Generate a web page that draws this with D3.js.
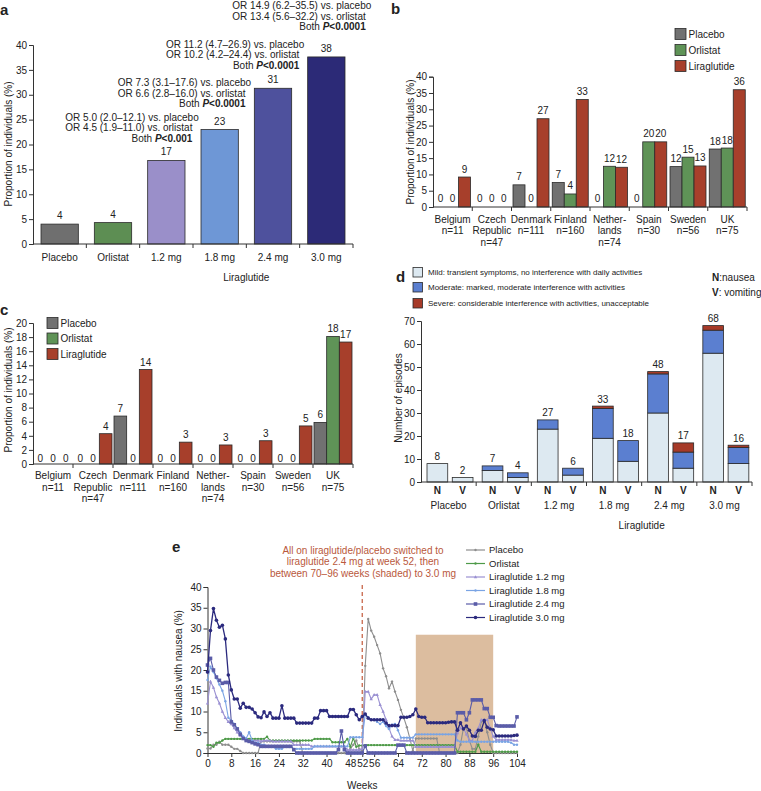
<!DOCTYPE html>
<html><head><meta charset="utf-8">
<script src="https://cdn.jsdelivr.net/npm/d3@7/dist/d3.min.js"></script>
<style>
body{margin:0;background:#fff}
svg text{font-family:"Liberation Sans",Arial,Helvetica,sans-serif;fill:#222}
</style>
</head><body>
<svg id="chart" width="761" height="791"></svg>
<script>
// ---------------- DATA ----------------
// Panel a
const catsA = ["Placebo","Orlistat","1.2 mg","1.8 mg","2.4 mg","3.0 mg"];
const valuesA = [4.0, 4.3, 16.8, 23.0, 31.3, 37.6];
const labelsA = ["4","4","17","23","31","38"];
const ticksA = [0,5,10,15,20,25,30,35,40];
const orCats = ["1.2 mg","1.8 mg","2.4 mg","3.0 mg"];
const orVsPlacebo = ["OR 5.0 (2.0–12.1) vs. placebo","OR 7.3 (3.1–17.6) vs. placebo","OR 11.2 (4.7–26.9) vs. placebo","OR 14.9 (6.2–35.5) vs. placebo"];
const orVsOrlistat = ["OR 4.5 (1.9–11.0) vs. orlistat","OR 6.6 (2.8–16.0) vs. orlistat","OR 10.2 (4.2–24.4) vs. orlistat","OR 13.4 (5.6–32.2) vs. orlistat"];
const orP = ["<0.001","<0.0001","<0.0001","<0.0001"];

// Panels b and c
const countries = ["Belgium","Czech Republic","Denmark","Finland","Netherlands","Spain","Sweden","UK"];
const countryLines = [["Belgium","n=11"],["Czech","Republic","n=47"],["Denmark","n=111"],["Finland","n=160"],["Nether-","lands","n=74"],["Spain","n=30"],["Sweden","n=56"],["UK","n=75"]];
const groupSeries = ["Placebo","Orlistat","Liraglutide"];
const placeboB = [0,0,6.8,7.5,0,0,12.4,17.8];
const orlistatB = [0,0,0,4.0,12.5,20.0,15.3,18.1];
const liraglutideB = [9.2,0,27.1,33.0,12.2,20.0,12.6,36.0];
const placeboBLabels = ["0","0","7","7","0","0","12","18"];
const orlistatBLabels = ["0","0","0","4","12","20","15","18"];
const liraglutideBLabels = ["9","0","27","33","12","20","13","36"];
const ticksB = [0,5,10,15,20,25,30,35,40];

const placeboC = [0,0,6.8,0,0,0,0,5.9];
const orlistatC = [0,0,0,0,0,0,0,18.1];
const liraglutideC = [0,4.3,13.4,3.1,2.7,3.3,5.4,17.3];
const placeboCLabels = ["0","0","7","0","0","0","0","6"];
const orlistatCLabels = ["0","0","0","0","0","0","0","18"];
const liraglutideCLabels = ["0","4","14","3","3","3","5","17"];
const ticksC = [0,2,4,6,8,10,12,14,16,18,20];

// Panel d
const groupsD = ["Placebo","Orlistat","1.2 mg","1.8 mg","2.4 mg","3.0 mg"];
const kindsD = ["N","V"];
const severities = ["Mild: transient symptoms, no interference with daily activities","Moderate: marked, moderate interference with activities","Severe: considerable interference with activities, unacceptable"];
const mildN = [8,5,23,19,30,56];
const moderateN = [0,2,4,13,17,10];
const severeN = [0,0,0,1,1,2];
const mildV = [2,2,3,9,6,8];
const moderateV = [0,2,3,9,7,7];
const severeV = [0,0,0,0,4,1];
const ticksD = [0,10,20,30,40,50,60,70];

// Panel e
const weeksE = [0,1,2,3,4,5,6,7,8,9,10,11,12,13,14,15,16,17,18,19,20,21,22,23,24,25,26,27,28,29,30,31,32,33,34,35,36,37,38,39,40,41,42,43,44,45,46,47,48,49,50,51,52,53,54,55,56,57,58,59,60,61,62,63,64,65,66,67,68,69,70,71,72,73,74,75,76,77,78,79,80,81,82,83,84,85,86,87,88,89,90,91,92,93,94,95,96,97,98,99,100,101,102,103,104];
const weekTicks = [0,8,16,24,32,40,48,52,56,64,72,80,88,96,104];
const ticksE = [0,5,10,15,20,25,30,35,40];
const seriesE = ["Placebo","Orlistat","Liraglutide 1.2 mg","Liraglutide 1.8 mg","Liraglutide 2.4 mg","Liraglutide 3.0 mg"];
const placeboE = [
1.1,1.1,2.0,2.0,2.7,2.0,2.0,2.0,1.5,1.0,
1.0,0.5,0,0,0,0,0,0,2.8,2.8,
2.8,2.8,2.8,2.8,2.8,2.8,2.8,2.8,2.8,2.8,
2.8,2.8,0,0,0,0,0,0,0,0,
0,0,0,0,0,0,0,0,1.0,2.0,
3.0,1.0,0.5,21.0,32.3,29.5,28.0,26.0,24.0,20.4,
18.5,15.6,17.2,14.8,12.8,10.4,8.4,6.2,3.5,0.5,
3.5,3.5,3.5,3.5,3.5,3.5,3.5,3.5,0,0,
0,0,0,0,0,2.0,6.0,6.0,3.0,1.0,
1.0,4.0,7.5,8.0,5.0,2.0,0,0,0,0,
0,0,0,0,0];
const orlistatE = [
1.9,1.9,1.5,2.5,2.5,3.0,3.4,3.4,3.4,3.4,
3.4,3.4,3.4,3.4,3.4,3.4,3.4,3.4,3.4,3.4,
3.9,3.0,3.0,3.0,3.0,3.0,3.0,3.0,3.0,3.0,
3.0,3.0,3.0,3.0,3.0,3.0,3.4,3.4,3.4,3.4,
3.4,3.4,2.6,2.6,2.6,2.6,2.6,3.4,1.5,3.6,
1.5,1.8,1.8,1.9,1.9,1.9,1.9,1.9,1.9,1.9,
1.9,1.9,1.9,1.9,1.9,1.9,1.9,1.9,1.9,1.9,
1.9,1.9,1.9,1.9,1.9,1.9,1.9,1.9,1.9,1.9,
1.9,1.9,1.9,1.9,0.3,0.3,0.3,0.3,0.3,0.3,
0.3,2.0,0.3,0.3,0.3,0.3,0.3,0.3,0.3,0.3,
0.3,0.3,0.3,0.3,0.3];
const lira12E = [
12.0,17.2,15.8,13.5,12.0,10.0,8.5,7.5,7.0,6.0,
5.0,4.2,3.8,3.3,3.0,3.0,3.0,3.0,2.8,3.0,
3.0,3.0,2.8,2.8,2.8,2.8,2.8,2.8,2.8,2.0,
2.0,2.0,2.0,2.0,2.0,1.6,1.6,1.6,1.6,1.6,
1.6,1.6,1.6,1.6,1.6,1.6,1.6,0.8,0.8,0.8,
0.8,0.8,1.0,14.8,14.8,13.0,14.0,14.0,11.6,10.0,
8.0,6.0,4.0,3.2,3.2,3.0,3.0,3.0,3.0,3.0,
1.5,1.5,1.5,1.5,1.5,1.5,1.5,1.5,1.5,1.5,
1.5,1.5,1.5,1.5,4.8,6.0,6.0,4.5,3.0,3.0,
5.0,6.0,8.0,8.0,8.0,6.0,4.0,3.2,3.2,3.2,
3.2,3.2,3.2,3.0,3.0];
const lira18E = [
17.6,20.8,19.5,18.0,16.5,15.0,12.5,8.5,7.8,7.0,
6.0,5.0,4.0,3.5,5.0,3.0,2.5,2.5,2.0,2.0,
1.5,1.5,1.6,1.0,1.0,1.0,1.6,1.6,1.6,1.0,
1.0,1.0,1.0,1.0,1.0,1.0,1.6,1.6,1.6,1.6,
1.6,1.6,1.6,1.6,1.6,1.6,1.6,1.6,3.8,3.8,
3.8,3.8,3.8,9.2,8.6,8.0,8.0,7.5,7.0,7.5,
6.5,5.8,6.8,7.0,5.5,3.7,3.7,3.7,3.7,3.7,
4.5,4.5,4.5,4.5,4.5,4.5,4.5,4.5,4.5,4.5,
4.5,4.5,4.5,4.5,3.0,2.7,2.7,2.7,2.7,2.7,
2.7,2.7,2.7,2.7,2.7,2.7,2.7,2.7,2.7,2.7,
2.7,2.7,2.5,2.0,2.0];
const lira24E = [
21.2,22.8,20.0,18.3,17.5,16.8,17.0,17.0,7.5,6.8,
5.8,4.5,3.5,3.0,2.8,2.5,2.2,2.0,1.6,1.6,
1.6,1.6,1.6,1.6,1.6,1.6,1.6,1.6,1.6,0.8,
0,0,0,0,0,0,0,0,0,0,
0,0,0,0,0.8,5.3,0.8,0,0,0,
0,0,0,1.7,0,0,0,0,0,0,
0,0,0,0,1.9,1.9,1.9,0,0,0,
0,0,0,0,0,0,0,0,0,0,
0,0,0,0,9.7,9.7,9.7,8.0,9.7,12.8,
12.8,12.8,12.8,10.7,10.7,8.6,8.6,6.6,6.5,6.5,
6.5,6.5,6.5,6.5,8.7];
const lira30E = [
19.5,29.5,34.8,32.0,30.3,30.8,27.5,18.8,15.2,13.0,
13.0,10.8,12.0,11.0,11.0,10.6,9.7,8.7,8.5,9.9,
8.8,9.7,8.4,8.4,8.4,11.4,8.4,8.4,8.4,8.4,
7.2,7.2,7.2,7.2,7.2,7.2,8.4,8.4,10.2,10.2,
10.2,8.8,8.8,8.8,8.8,8.8,8.8,8.8,10.5,10.5,
9.2,8.0,8.8,9.4,8.4,8.0,8.0,8.0,8.0,8.0,
7.2,6.6,6.6,6.6,6.6,8.6,8.6,8.6,8.8,9.2,
10.6,8.8,8.6,8.6,7.3,7.3,7.3,7.3,7.3,7.3,
7.3,7.4,7.5,7.5,5.5,7.3,5.8,6.5,5.5,4.1,
4.0,5.5,5.5,7.8,6.2,5.8,5.6,4.1,4.1,4.1,
4.1,4.1,4.1,4.2,4.3];
const shadeWeeks = [70,96];
const shadeTop = 28.5;
const switchWeek = 52;
const noteLines = ["All on liraglutide/placebo switched to","liraglutide 2.4 mg at week 52, then","between 70–96 weeks (shaded) to 3.0 mg"];

// ---------------- STYLE ----------------
const colorsA = ["#6f6f6f","#5d8e53","#9a8fc9","#6e97d6","#4e519d","#2c2a77"];
const groupColors = ["#717171","#5f9357","#a73f2b"];
const sevColors = ["#dde9f1","#5b7fd0","#a63a28"];
const lineColorsE = ["#8e8e8e","#4e9a48","#9a90d2","#7aa4e4","#5a5ca8","#2b2a7e"];
const AX = "#333";

const svg = d3.select("#chart");
svg.append("rect").attr("width",761).attr("height",791).attr("fill","#fff");

function styleAxis(g){
  g.selectAll("path").attr("stroke",AX);
  g.selectAll("line").attr("stroke",AX);
  g.selectAll("text").attr("font-size",10).attr("fill","#222");
}
function panelLabel(t,x,y){
  svg.append("text").attr("x",x).attr("y",y).attr("font-size",15).attr("font-weight","bold").text(t);
}
function yLabel(t,x,y){
  svg.append("text").attr("transform",`translate(${x},${y}) rotate(-90)`).attr("text-anchor","middle").attr("font-size",10).text(t);
}
function bandTicks(scaleRange, n, y){
  const [a,b] = scaleRange; const step=(b-a)/n;
  for(let k=1;k<=n;k++){
    svg.append("line").attr("x1",a+k*step).attr("x2",a+k*step).attr("y1",y).attr("y2",y+4).attr("stroke",AX);
  }
  svg.append("line").attr("x1",a).attr("x2",b).attr("y1",y).attr("y2",y).attr("stroke",AX);
}

// ---------------- PANEL A ----------------
panelLabel("a",0,15);
const xA = d3.scaleBand().domain(catsA).range([33,353]).paddingInner(0.3).paddingOuter(0.15);
const yA = d3.scaleLinear().domain([0,40]).range([244,45]);
styleAxis(svg.append("g").attr("transform","translate(33,0)").call(d3.axisLeft(yA).tickValues(ticksA).tickSize(4).tickPadding(2)));
svg.selectAll(".barA").data(catsA).enter().append("rect")
  .attr("x",d=>xA(d)).attr("width",xA.bandwidth())
  .attr("y",(d,i)=>yA(valuesA[i])).attr("height",(d,i)=>yA(0)-yA(valuesA[i]))
  .attr("fill",(d,i)=>colorsA[i]).attr("stroke","#2a2a2a").attr("stroke-width",0.8);
bandTicks([33,353],6,244);
catsA.forEach((c,i)=>{
  const cx = xA(c)+xA.bandwidth()/2;
  svg.append("text").attr("x",cx).attr("y",yA(valuesA[i])-5).attr("text-anchor","middle").attr("font-size",10).text(labelsA[i]);
  svg.append("text").attr("x",cx).attr("y",261).attr("text-anchor","middle").attr("font-size",10).text(c);
});
svg.append("text").attr("x",(xA("1.2 mg")+xA("3.0 mg")+xA.bandwidth())/2).attr("y",281).attr("text-anchor","middle").attr("font-size",10).text("Liraglutide");
yLabel("Proportion of individuals (%)",11.5,144);
const orDx = [-101,-102,-107,-94];
const orDy = [-43,-47,-44,-51];
orCats.forEach((c,i)=>{
  const cx = xA(c)+xA.bandwidth()/2;
  const v = valuesA[catsA.indexOf(c)];
  const x0 = cx+orDx[i];
  const y1 = yA(v)+orDy[i]+3.5;
  svg.append("text").attr("x",x0).attr("y",y1).attr("font-size",10).text(orVsPlacebo[i]);
  const t2 = svg.append("text").attr("x",x0).attr("y",y1+10.5).attr("font-size",10).text(orVsOrlistat[i]);
  const w2 = t2.node().getComputedTextLength();
  const t3 = svg.append("text").attr("x",x0+w2).attr("y",y1+21).attr("font-size",10).attr("text-anchor","end");
  t3.append("tspan").text("Both ");
  t3.append("tspan").attr("font-weight","bold").attr("font-style","italic").text("P");
  t3.append("tspan").attr("font-weight","bold").text(orP[i]);
});

// ---------------- PANEL B / C helper ----------------
function groupedPanel(opts){
  const {x0,x1,y,inner,data,labels,ticks,zeroDy,valDy,labelY} = opts;
  const xg = d3.scaleBand().domain(countries).range([x0,x1]).padding(0);
  const xi = d3.scaleBand().domain(groupSeries).range(inner).padding(0);
  styleAxis(svg.append("g").attr("transform",`translate(${x0},0)`).call(d3.axisLeft(y).tickValues(ticks).tickSize(4).tickPadding(2)));
  countries.forEach((c,ci)=>{
    groupSeries.forEach((s,si)=>{
      const v = data[si][ci];
      const bx = xg(c)+xi(s);
      if(v>0){
        svg.append("rect").attr("x",bx).attr("width",xi.bandwidth()).attr("y",y(v)).attr("height",y(0)-y(v))
          .attr("fill",groupColors[si]).attr("stroke","#2a2a2a").attr("stroke-width",0.8);
      }
      svg.append("text").attr("x",bx+xi.bandwidth()/2).attr("y",v>0?y(v)-valDy:y(0)-zeroDy)
        .attr("text-anchor","middle").attr("font-size",10).text(labels[si][ci]);
    });
    countryLines[ci].forEach((ln,li)=>{
      svg.append("text").attr("x",xg(c)+xg.bandwidth()/2).attr("y",labelY+li*11.5).attr("text-anchor","middle").attr("font-size",10).text(ln);
    });
  });
  bandTicks([x0,x1],8,y(0));
}
function groupLegend(x,ys){
  groupSeries.forEach((s,i)=>{
    svg.append("rect").attr("x",x).attr("y",ys[i]-5.5).attr("width",11).attr("height",11).attr("fill",groupColors[i]).attr("stroke","#2a2a2a").attr("stroke-width",0.8);
    svg.append("text").attr("x",x+13.5).attr("y",ys[i]+3.8).attr("font-size",10).text(s);
  });
}

// PANEL B
panelLabel("b",391,14);
const yB = d3.scaleLinear().domain([0,40]).range([207,76.7]);
groupedPanel({x0:433,x1:747,y:yB,inner:[1.5,37.5],data:[placeboB,orlistatB,liraglutideB],
  labels:[placeboBLabels,orlistatBLabels,liraglutideBLabels],ticks:ticksB,zeroDy:5,valDy:4.5,labelY:222.5});
groupLegend(675,[34,50,66]);
yLabel("Proportion of individuals (%)",413.5,142);

// PANEL C
panelLabel("c",0,315);
const yC = d3.scaleLinear().domain([0,20]).range([464,323]);
groupedPanel({x0:33,x1:353,y:yC,inner:[1,39],data:[placeboC,orlistatC,liraglutideC],
  labels:[placeboCLabels,orlistatCLabels,liraglutideCLabels],ticks:ticksC,zeroDy:2.3,valDy:4,labelY:479});
groupLegend(47,[323,338.5,354]);
yLabel("Proportion of individuals (%)",11.5,390);

// ---------------- PANEL D ----------------
panelLabel("d",396,282);
const xD = d3.scaleBand().domain(groupsD).range([421,752]).padding(0);
const xDi = d3.scaleBand().domain(kindsD).range([6,52]).paddingInner(0.18).paddingOuter(0);
const yD = d3.scaleLinear().domain([0,70]).range([482,321]);
styleAxis(svg.append("g").attr("transform","translate(421,0)").call(d3.axisLeft(yD).tickValues(ticksD).tickSize(4).tickPadding(2)));
const stackD = {N:[mildN,moderateN,severeN], V:[mildV,moderateV,severeV]};
groupsD.forEach((g,gi)=>{
  kindsD.forEach(k=>{
    const bx = xD(g)+xDi(k);
    let acc = 0;
    stackD[k].forEach((arr,si)=>{
      const v = arr[gi];
      if(v>0){
        svg.append("rect").attr("x",bx).attr("width",xDi.bandwidth()).attr("y",yD(acc+v)).attr("height",yD(acc)-yD(acc+v))
          .attr("fill",sevColors[si]).attr("stroke","#2a2a2a").attr("stroke-width",0.8);
      }
      acc += v;
    });
    svg.append("text").attr("x",bx+xDi.bandwidth()/2).attr("y",yD(acc)-3.5).attr("text-anchor","middle").attr("font-size",10).text(acc);
    svg.append("text").attr("x",bx+xDi.bandwidth()/2).attr("y",494).attr("text-anchor","middle").attr("font-size",10).attr("font-weight","bold").text(k);
  });
  svg.append("text").attr("x",xD(g)+xD.bandwidth()/2).attr("y",509).attr("text-anchor","middle").attr("font-size",10).text(g);
});
bandTicks([421,752],6,482);
svg.append("text").attr("x",(xD("1.2 mg")+xD("3.0 mg")+xD.bandwidth())/2).attr("y",529).attr("text-anchor","middle").attr("font-size",10).text("Liraglutide");
yLabel("Number of episodes",401.5,398);
[272,287,303].forEach((yy,i)=>{
  svg.append("rect").attr("x",413).attr("y",yy-4.5).attr("width",9.5).attr("height",9.5).attr("fill",sevColors[i]).attr("stroke","#2a2a2a").attr("stroke-width",0.8);
  svg.append("text").attr("x",428).attr("y",yy+3).attr("font-size",8).text(severities[i]);
});
const nT = svg.append("text").attr("x",712).attr("y",281).attr("font-size",10);
nT.append("tspan").attr("font-weight","bold").text("N"); nT.append("tspan").text(":nausea");
const vT = svg.append("text").attr("x",712).attr("y",296).attr("font-size",10);
vT.append("tspan").attr("font-weight","bold").text("V"); vT.append("tspan").text(": vomiting");

// ---------------- PANEL E ----------------
panelLabel("e",172,552);
const xE = d3.scaleLinear().domain([0,104]).range([207.5,517]);
const yE = d3.scaleLinear().domain([0,40]).range([753,587]);
svg.append("rect").attr("x",xE(shadeWeeks[0])).attr("width",xE(shadeWeeks[1])-xE(shadeWeeks[0]))
  .attr("y",yE(shadeTop)).attr("height",yE(0)-yE(shadeTop)).attr("fill","#dcbd9f");
svg.append("line").attr("x1",xE(switchWeek)).attr("x2",xE(switchWeek)).attr("y1",585).attr("y2",yE(0))
  .attr("stroke","#c8664a").attr("stroke-width",1.3).attr("stroke-dasharray","4,3");
noteLines.forEach((t,i)=>{
  svg.append("text").attr("x",363).attr("y",553.5+i*11.5).attr("text-anchor","middle").attr("font-size",10).style("fill","#b9583c").text(t);
});
styleAxis(svg.append("g").attr("transform",`translate(${xE(0)},0)`).call(d3.axisLeft(yE).tickValues(ticksE).tickSize(4).tickPadding(2)));
styleAxis(svg.append("g").attr("transform",`translate(0,${yE(0)})`).call(d3.axisBottom(xE).tickValues(weekTicks).tickSize(4).tickPadding(3).tickSizeOuter(0)));
const allE = [placeboE,orlistatE,lira12E,lira18E,lira24E,lira30E];
const lineE = d3.line().x((d,i)=>xE(weeksE[i])).y(d=>yE(d));
function marker(g,k,x,y){
  const c = lineColorsE[k];
  if(k===4){ g.append("rect").attr("x",x-1.8).attr("y",y-1.8).attr("width",3.6).attr("height",3.6).attr("fill",c); }
  else if(k===5){ g.append("circle").attr("cx",x).attr("cy",y).attr("r",1.8).attr("fill",c); }
  else if(k===2){ g.append("path").attr("d",`M${x},${y-1.8}L${x+1.7},${y+1.2}L${x-1.7},${y+1.2}Z`).attr("fill",c); }
  else { g.append("circle").attr("cx",x).attr("cy",y).attr("r",1.2).attr("fill",c); }
}
allE.forEach((arr,k)=>{
  const g = svg.append("g");
  g.append("path").attr("d",lineE(arr)).attr("fill","none").attr("stroke",lineColorsE[k]).attr("stroke-width",k===5?1.3:1.1);
  arr.forEach((v,i)=>marker(g,k,xE(weeksE[i]),yE(v)));
});
svg.append("text").attr("x",(xE(0)+xE(104))/2).attr("y",789).attr("text-anchor","middle").attr("font-size",10).text("Weeks");
yLabel("Individuals with nausea (%)",181.5,671);
seriesE.forEach((s,k)=>{
  const yy = 550+k*13.5;
  const g = svg.append("g");
  g.append("line").attr("x1",466).attr("x2",485).attr("y1",yy).attr("y2",yy).attr("stroke",lineColorsE[k]).attr("stroke-width",1.2);
  marker(g,k,475.5,yy);
  svg.append("text").attr("x",489).attr("y",yy+3.4).attr("font-size",9.5).text(s);
});
</script>
</body></html>
